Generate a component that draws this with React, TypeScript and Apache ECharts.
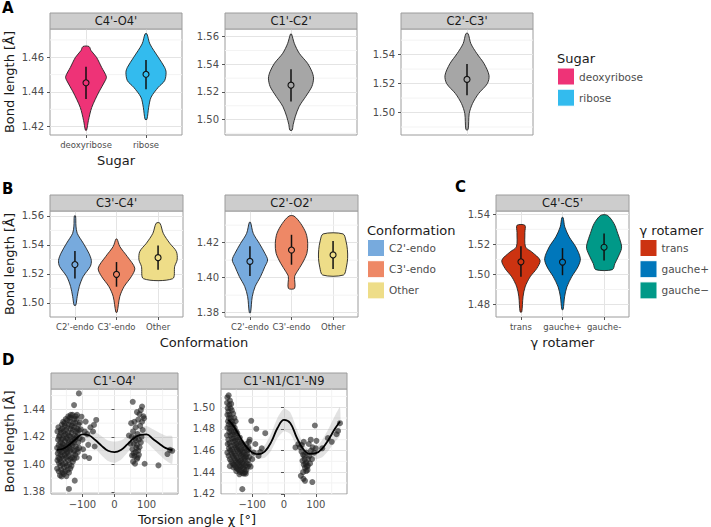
import React, { useEffect, useRef } from "react";
import * as echarts from "echarts";

const FONT = "DejaVu Sans";

// ---------- categories ----------
const sugarCats = ["deoxyribose", "ribose"];
const confCats = ["C2'-endo", "C3'-endo", "Other"];
const gammaCats = ["trans", "gauche+", "gauche-"];
const gammaLegend = ["trans", "gauche+", "gauche\u2212"];

// ---------- tick labels ----------
const ticksA1 = [1.42, 1.44, 1.46];
const ticksA2 = [1.5, 1.52, 1.54, 1.56];
const ticksA3 = [1.5, 1.52, 1.54];
const ticksB1 = [1.5, 1.52, 1.54, 1.56];
const ticksB2 = [1.38, 1.4, 1.42];
const ticksC = [1.48, 1.5, 1.52, 1.54];
const ticksD1 = [1.38, 1.4, 1.42, 1.44];
const ticksD2 = [1.42, 1.44, 1.46, 1.48, 1.5];
const ticksChi = [-100, 0, 100];

// ---------- violin profiles: [bond length, width (fraction of category slot)] ----------
const c4o4Deoxy = [[1.4662, 0.1], [1.4638, 0.17], [1.46, 0.35], [1.4542, 0.52], [1.4488, 0.68], [1.4465, 0.64], [1.44, 0.43], [1.431, 0.19], [1.4235, 0.08], [1.418, 0.02]];
const c4o4Ribose = [[1.4735, 0.03], [1.4677, 0.13], [1.46, 0.41], [1.4542, 0.62], [1.4513, 0.67], [1.4465, 0.62], [1.4427, 0.41], [1.437, 0.17], [1.4312, 0.09], [1.4242, 0.03]];
const c1c2All = [[1.5619, 0.01], [1.5552, 0.06], [1.548, 0.15], [1.5408, 0.3], [1.5348, 0.38], [1.53, 0.41], [1.524, 0.38], [1.5168, 0.27], [1.5096, 0.15], [1.5024, 0.08], [1.4964, 0.04], [1.4923, 0.02]];
const c2c3All = [[1.5545, 0.02], [1.5476, 0.07], [1.5407, 0.18], [1.5338, 0.31], [1.5257, 0.4], [1.52, 0.37], [1.5131, 0.21], [1.5062, 0.1], [1.4993, 0.04], [1.4883, 0.02]];
const c3c4C2 = [[1.56, 0.03], [1.553, 0.05], [1.548, 0.11], [1.5412, 0.4], [1.5343, 0.67], [1.5293, 0.79], [1.5252, 0.74], [1.5183, 0.4], [1.5114, 0.21], [1.5045, 0.11], [1.4984, 0.04]];
const c3c4C3 = [[1.544, 0.03], [1.5389, 0.16], [1.532, 0.52], [1.524, 0.88], [1.5183, 0.72], [1.5114, 0.37], [1.5045, 0.16], [1.4936, 0.03]];
const c3c4Other = [[1.555, 0.09], [1.548, 0.25], [1.5412, 0.56], [1.5355, 0.88], [1.5298, 0.92], [1.5252, 0.8], [1.5167, 0.7]];
const c2o2C2 = [[1.4316, 0.03], [1.4253, 0.16], [1.4196, 0.45], [1.4139, 0.72], [1.4101, 0.85], [1.4063, 0.72], [1.4006, 0.51], [1.3949, 0.25], [1.3891, 0.11], [1.38, 0.03]];
const c2o2C3 = [[1.4352, 0.12], [1.431, 0.44], [1.4253, 0.7], [1.4196, 0.78], [1.4139, 0.74], [1.4082, 0.52], [1.4034, 0.27], [1.4006, 0.15], [1.3939, 0.15]];
const c2o2Other = [[1.425, 0.48], [1.421, 0.62], [1.416, 0.69], [1.411, 0.7], [1.406, 0.64], [1.4015, 0.5]];
const c4c5Trans = [[1.5327, 0.19], [1.528, 0.19], [1.5183, 0.22], [1.515, 0.52], [1.5094, 0.92], [1.5039, 0.76], [1.4984, 0.44], [1.4917, 0.2], [1.4851, 0.1], [1.4751, 0.04]];
const c4c5GPlus = [[1.5378, 0.03], [1.5316, 0.11], [1.525, 0.32], [1.5183, 0.64], [1.5105, 0.86], [1.505, 0.74], [1.4984, 0.44], [1.4917, 0.21], [1.4851, 0.1], [1.4767, 0.03]];
const c4c5GMinus = [[1.5393, 0.16], [1.5338, 0.48], [1.5272, 0.66], [1.5205, 0.82], [1.5172, 0.84], [1.5117, 0.68], [1.5072, 0.52], [1.5032, 0.4]];

// ---------- summary: [mean, mean - sd, mean + sd] ----------
const statA1 = [[1.4453, 1.436, 1.4545], [1.4502, 1.4415, 1.4585]];
const statA2 = [[1.5249, 1.513, 1.5365]];
const statA3 = [[1.5229, 1.512, 1.5335]];
const statB1 = [[1.5265, 1.5168, 1.5358], [1.5197, 1.5112, 1.5282], [1.5312, 1.5228, 1.5396]];
const statB2 = [[1.4093, 1.401, 1.4179], [1.4158, 1.4074, 1.4245], [1.413, 1.405, 1.421]];
const statC = [[1.5084, 1.4985, 1.5187], [1.5082, 1.4995, 1.5175], [1.5181, 1.5092, 1.5272]];

// ---------- panel D: smooth fit [chi, fit, lower, upper] ----------
const fitC1O4 = [
  [-180, 1.4106, 1.4066, 1.4146], [-160, 1.4114, 1.4084, 1.4144], [-140, 1.4145, 1.4115, 1.4175],
  [-120, 1.4185, 1.4155, 1.4215], [-100, 1.4218, 1.4178, 1.4258], [-80, 1.4212, 1.4162, 1.4262],
  [-60, 1.4177, 1.4117, 1.4237], [-40, 1.4135, 1.4065, 1.4205], [-20, 1.4099, 1.4024, 1.4174],
  [0, 1.4089, 1.4011, 1.4167], [20, 1.4104, 1.4034, 1.4174], [40, 1.4145, 1.4085, 1.4205],
  [60, 1.419, 1.414, 1.424], [80, 1.4214, 1.4164, 1.4264], [100, 1.4219, 1.4159, 1.4279],
  [120, 1.4185, 1.4115, 1.4255], [140, 1.415, 1.407, 1.423], [160, 1.4118, 1.4028, 1.4208],
  [180, 1.4104, 1.4004, 1.4204],
];
const fitC1N = [
  [-175, 1.4883, 1.4845, 1.4921], [-160, 1.4832, 1.4805, 1.486], [-140, 1.4735, 1.471, 1.476],
  [-120, 1.464, 1.4615, 1.4665], [-100, 1.4582, 1.4552, 1.4612], [-80, 1.4566, 1.4526, 1.4606],
  [-60, 1.4592, 1.4532, 1.4652], [-40, 1.468, 1.46, 1.476], [-20, 1.481, 1.4715, 1.4905],
  [0, 1.4883, 1.4778, 1.4988], [20, 1.4852, 1.4752, 1.4952], [40, 1.472, 1.464, 1.48],
  [60, 1.4615, 1.4565, 1.4665], [80, 1.457, 1.453, 1.461], [100, 1.4575, 1.452, 1.463],
  [120, 1.4618, 1.4538, 1.4698], [140, 1.47, 1.46, 1.48], [160, 1.48, 1.468, 1.492],
  [176, 1.4868, 1.4738, 1.4998],
];

// ---------- panel D: observations [chi, bond length] ----------
const c1o4Points = [
  [-179, 1.397], [-178, 1.403], [-177, 1.408], [-179, 1.412], [-176, 1.418], [-178, 1.424],
  [-174, 1.395], [-173, 1.401], [-175, 1.405], [-172, 1.41], [-174, 1.414], [-173, 1.42], [-175, 1.427],
  [-170, 1.392], [-169, 1.399], [-171, 1.404], [-168, 1.407], [-170, 1.411], [-169, 1.416], [-171, 1.421], [-168, 1.425],
  [-166, 1.396], [-165, 1.3913], [-167, 1.402], [-164, 1.409], [-166, 1.413], [-165, 1.418], [-167, 1.423], [-164, 1.429],
  [-162, 1.394], [-161, 1.4], [-163, 1.406], [-160, 1.412], [-162, 1.415], [-161, 1.419], [-163, 1.426], [-160, 1.431],
  [-158, 1.393], [-157, 1.398], [-159, 1.404], [-156, 1.41], [-158, 1.414], [-157, 1.421], [-159, 1.424], [-156, 1.43],
  [-154, 1.395], [-153, 1.401], [-155, 1.407], [-152, 1.411], [-154, 1.417], [-153, 1.422], [-155, 1.428], [-152, 1.433],
  [-150, 1.3915], [-149, 1.399], [-151, 1.405], [-148, 1.409], [-150, 1.413], [-149, 1.419], [-151, 1.425], [-148, 1.432],
  [-146, 1.396], [-145, 1.403], [-147, 1.408], [-144, 1.414], [-146, 1.418], [-145, 1.423], [-147, 1.427], [-144, 1.435],
  [-142, 1.394], [-141, 1.4], [-143, 1.406], [-140, 1.412], [-142, 1.416], [-141, 1.421], [-143, 1.429], [-140, 1.434], [-142, 1.3822],
  [-138, 1.397], [-137, 1.404], [-139, 1.41], [-136, 1.415], [-138, 1.42], [-137, 1.426], [-139, 1.431], [-136, 1.436],
  [-134, 1.399], [-133, 1.405], [-135, 1.411], [-132, 1.417], [-134, 1.423], [-133, 1.428], [-135, 1.434],
  [-130, 1.402], [-129, 1.408], [-131, 1.414], [-128, 1.419], [-130, 1.425], [-129, 1.43], [-131, 1.436],
  [-126, 1.404], [-125, 1.41], [-127, 1.416], [-124, 1.421], [-126, 1.427], [-125, 1.433], [-126, 1.4431], [-124, 1.3882],
  [-122, 1.407], [-121, 1.413], [-123, 1.418], [-120, 1.424], [-122, 1.43], [-121, 1.435],
  [-118, 1.405], [-117, 1.411], [-119, 1.42], [-116, 1.426], [-118, 1.433], [-117, 1.436],
  [-114, 1.409], [-113, 1.416], [-115, 1.423], [-112, 1.429],
  [-110, 1.412], [-109, 1.419], [-111, 1.425], [-111, 1.4516],
  [-103, 1.4347], [-90, 1.4311], [-57, 1.4323], [-64, 1.4287], [-67, 1.4239], [-93, 1.4239], [-82, 1.4142],
  [-62, 1.413], [-93, 1.4058], [-79, 1.4046], [-100, 1.418], [-105, 1.4255], [-98, 1.411], [-85, 1.422],
  [-75, 1.427], [-108, 1.4305],
  [57, 1.4455], [82, 1.4395], [86, 1.442], [78, 1.4365], [90, 1.435], [70, 1.438], [74, 1.4325], [62, 1.431],
  [52, 1.43], [66, 1.427], [80, 1.428], [58, 1.424], [72, 1.422], [88, 1.425], [64, 1.419], [76, 1.418],
  [54, 1.42], [60, 1.415], [70, 1.414], [82, 1.416], [56, 1.411], [66, 1.409], [74, 1.41], [62, 1.406],
  [70, 1.404], [58, 1.402], [64, 1.4005], [76, 1.407], [68, 1.412], [60, 1.408], [72, 1.405], [84, 1.42],
  [50, 1.415], [45, 1.421], [94, 1.4005], [66, 1.4175], [78, 1.4125], [55, 1.4065], [86, 1.431], [92, 1.4335],
  [137, 1.3993], [165, 1.4075], [173, 1.4106], [180, 1.4099],
];
const c1nPoints = [
  [-178, 1.458], [-177, 1.466], [-179, 1.474], [-178, 1.481], [-176, 1.487], [-178, 1.493], [-177, 1.499], [-179, 1.504], [-178, 1.509],
  [-174, 1.455], [-173, 1.462], [-175, 1.47], [-172, 1.477], [-174, 1.484], [-173, 1.49], [-175, 1.496], [-172, 1.502], [-174, 1.511],
  [-170, 1.452], [-169, 1.46], [-171, 1.467], [-168, 1.474], [-170, 1.48], [-169, 1.486], [-171, 1.493], [-168, 1.499], [-170, 1.506],
  [-166, 1.45], [-165, 1.457], [-167, 1.464], [-164, 1.471], [-166, 1.478], [-165, 1.484], [-167, 1.49], [-164, 1.497], [-166, 1.503],
  [-162, 1.448], [-161, 1.455], [-163, 1.461], [-160, 1.468], [-162, 1.475], [-161, 1.481], [-163, 1.487], [-160, 1.494],
  [-158, 1.447], [-157, 1.453], [-159, 1.459], [-156, 1.465], [-158, 1.471], [-157, 1.477], [-159, 1.484], [-156, 1.49],
  [-154, 1.446], [-153, 1.451], [-155, 1.457], [-152, 1.463], [-154, 1.469], [-153, 1.475], [-155, 1.481], [-152, 1.487],
  [-150, 1.444], [-149, 1.449], [-151, 1.455], [-148, 1.461], [-150, 1.466], [-149, 1.472], [-151, 1.478],
  [-146, 1.443], [-145, 1.448], [-147, 1.453], [-144, 1.459], [-146, 1.464], [-145, 1.47], [-147, 1.476],
  [-142, 1.442], [-141, 1.446], [-143, 1.451], [-140, 1.457], [-142, 1.462], [-141, 1.468],
  [-138, 1.44], [-137, 1.445], [-139, 1.45], [-136, 1.455], [-138, 1.46], [-137, 1.466], [-139, 1.472],
  [-134, 1.441], [-133, 1.446], [-135, 1.451], [-132, 1.456], [-134, 1.461], [-133, 1.467],
  [-130, 1.439], [-129, 1.444], [-131, 1.449], [-128, 1.454], [-130, 1.459], [-129, 1.465],
  [-126, 1.4385], [-125, 1.443], [-127, 1.448], [-124, 1.453], [-126, 1.458], [-125, 1.463],
  [-122, 1.44], [-121, 1.446], [-123, 1.451], [-120, 1.456], [-122, 1.462],
  [-118, 1.442], [-117, 1.448], [-119, 1.454], [-116, 1.46], [-118, 1.466],
  [-114, 1.445], [-113, 1.451], [-115, 1.457], [-112, 1.463],
  [-110, 1.447], [-109, 1.454], [-111, 1.461], [-110, 1.468],
  [-131, 1.4243], [-159, 1.4443], [-103, 1.4874], [-87, 1.48], [-70, 1.462], [-59, 1.476], [-100, 1.452],
  [-95, 1.458], [-105, 1.445], [-90, 1.466], [-80, 1.455], [-75, 1.4585], [-108, 1.47], [-170, 1.4455],
  [-150, 1.441], [-140, 1.438], [-120, 1.4385],
  [36, 1.4628], [45, 1.466], [50, 1.463], [55, 1.459], [60, 1.456], [65, 1.452], [70, 1.449], [58, 1.4505],
  [62, 1.447], [66, 1.444], [72, 1.445], [68, 1.4475], [74, 1.442], [64, 1.455], [70, 1.458], [76, 1.452],
  [80, 1.455], [85, 1.46], [90, 1.463], [95, 1.458], [100, 1.462], [88, 1.452], [82, 1.448], [56, 1.465],
  [62, 1.468], [78, 1.466], [84, 1.47], [53, 1.4366], [61, 1.4338], [66, 1.432], [89, 1.4308], [97, 1.4831],
  [102, 1.4689], [60, 1.44], [70, 1.441], [75, 1.446],
  [138, 1.4714], [176, 1.4852], [150, 1.468], [120, 1.462], [165, 1.475], [170, 1.478],
];

// ---------- colours ----------
const sugarColors = ["#EE3377", "#33BBEE"];
const confColors = ["#77AADD", "#EE8866", "#EEDD88"];
const gammaColors = ["#CC3311", "#0077BB", "#009988"];
const grayViolin = "#A6A6A6";

type Violin = { prof: number[][]; stat: number[]; color: string };
type Panel = {
  strip: string;
  box: number[];
  y: number[];
  yMajor: number[];
  yMinor: number[];
  cats?: string[];
  showCats?: boolean;
  violins?: Violin[];
  x?: number[];
  xMajor?: number[];
  xMinor?: number[];
  points?: number[][];
  fit?: number[][];
};

const panels: Panel[] = [
  { strip: "C4'-O4'", box: [50, 29, 132, 106], y: [1.4152, 1.4763], yMajor: ticksA1, yMinor: [1.43, 1.45, 1.47], cats: sugarCats, showCats: true,
    violins: [{ prof: c4o4Deoxy, stat: statA1[0], color: sugarColors[0] }, { prof: c4o4Ribose, stat: statA1[1], color: sugarColors[1] }] },
  { strip: "C1'-C2'", box: [225, 29, 132, 106], y: [1.4888, 1.5656], yMajor: ticksA2, yMinor: [1.49, 1.51, 1.53, 1.55], cats: ["all"], showCats: false,
    violins: [{ prof: c1c2All, stat: statA2[0], color: grayViolin }] },
  { strip: "C2'-C3'", box: [401, 29, 132, 106], y: [1.4845, 1.5577], yMajor: ticksA3, yMinor: [1.49, 1.51, 1.53, 1.55], cats: ["all"], showCats: false,
    violins: [{ prof: c2c3All, stat: statA3[0], color: grayViolin }] },
  { strip: "C3'-C4'", box: [50, 211, 133, 106], y: [1.4903, 1.5634], yMajor: ticksB1, yMinor: [1.51, 1.53, 1.55], cats: confCats, showCats: true,
    violins: [0, 1, 2].map((k) => ({ prof: [c3c4C2, c3c4C3, c3c4Other][k], stat: statB1[k], color: confColors[k] })) },
  { strip: "C2'-O2'", box: [225, 211, 133, 106], y: [1.3775, 1.4381], yMajor: ticksB2, yMinor: [1.39, 1.41, 1.43], cats: confCats, showCats: true,
    violins: [0, 1, 2].map((k) => ({ prof: [c2o2C2, c2o2C3, c2o2Other][k], stat: statB2[k], color: confColors[k] })) },
  { strip: "C4'-C5'", box: [496, 211, 133, 106], y: [1.4717, 1.5422], yMajor: ticksC, yMinor: [1.49, 1.51, 1.53], cats: gammaCats, showCats: true,
    violins: [0, 1, 2].map((k) => ({ prof: [c4c5Trans, c4c5GPlus, c4c5GMinus][k], stat: statC[k], color: gammaColors[k] })) },
  { strip: "C1'-O4'", box: [51, 389, 127, 105], y: [1.3785, 1.4548], yMajor: ticksD1, yMinor: [1.39, 1.41, 1.43, 1.45],
    x: [-198, 198], xMajor: ticksChi, xMinor: [-150, -50, 50, 150], points: c1o4Points, fit: fitC1O4 },
  { strip: "C1'-N1/C1'-N9", box: [221, 389, 126, 105], y: [1.4198, 1.5168], yMajor: ticksD2, yMinor: [1.43, 1.45, 1.47, 1.49, 1.51],
    x: [-198, 198], xMajor: ticksChi, xMinor: [-150, -50, 50, 150], points: c1nPoints, fit: fitC1N },
];

const TICK = "#4d4d4d";
const TITLE = "#1a1a1a";
const BORDER = "#9c9c9c";
const MAJOR = "#e4e4e4";
const MINOR = "#f3f3f3";

function buildOption() {
  const grid: any[] = [];
  const xAxis: any[] = [];
  const yAxis: any[] = [];
  const series: any[] = [];
  const elements: any[] = [];

  panels.forEach((p, i) => {
    const [l, t, w, h] = p.box;
    grid.push({ left: l, top: t, width: w, height: h, show: true, borderColor: BORDER, borderWidth: 1, backgroundColor: "#fff" });
    const isCat = !!p.cats;
    const xMin = isCat ? 0.4 : p.x![0];
    const xMax = isCat ? p.cats!.length + 0.6 : p.x![1];
    const xVals = isCat ? p.cats!.map((_, k) => k + 1) : p.xMajor!;
    xAxis.push({
      type: "value", gridIndex: i, min: xMin, max: xMax,
      axisLine: { show: false },
      axisTick: { show: isCat ? !!p.showCats : true, customValues: xVals, length: 3, lineStyle: { color: "#555" } },
      axisLabel: {
        show: isCat ? !!p.showCats : true, customValues: xVals, margin: 5,
        fontSize: isCat ? 8.5 : 10, color: TICK, fontFamily: FONT,
        formatter: (v: number) => isCat ? p.cats![Math.round(v) - 1] : (v < 0 ? "\u2212" + Math.abs(v) : String(v)),
      },
      splitLine: { show: true, lineStyle: { color: MAJOR, width: 1 } },
    });
    yAxis.push({
      type: "value", gridIndex: i, min: p.y[0], max: p.y[1],
      axisLine: { show: false },
      axisTick: { show: true, customValues: p.yMajor, length: 3, lineStyle: { color: "#555" } },
      axisLabel: { customValues: p.yMajor, margin: 6, fontSize: 10, color: TICK, fontFamily: FONT, formatter: (v: number) => v.toFixed(2) },
      splitLine: { show: true, lineStyle: { color: MAJOR, width: 1 } },
    });

    // minor grid lines
    const minors = [...p.yMinor.map((v) => ({ o: "h", v })), ...(p.xMinor || []).map((v) => ({ o: "v", v }))];
    series.push({
      type: "custom", xAxisIndex: i, yAxisIndex: i, silent: true, z: 1, clip: true,
      data: minors.map((m) => (m.o === "h" ? [xMin, m.v] : [m.v, p.y[0]])),
      renderItem: (params: any, api: any) => {
        const m = minors[params.dataIndex];
        const a = m.o === "h" ? api.coord([xMin, m.v]) : api.coord([m.v, p.y[0]]);
        const b = m.o === "h" ? api.coord([xMax, m.v]) : api.coord([m.v, p.y[1]]);
        return { type: "line", shape: { x1: a[0], y1: a[1], x2: b[0], y2: b[1] }, style: { stroke: MINOR, lineWidth: 1 } };
      },
    });

    if (p.violins) {
      const vs = p.violins;
      series.push({
        type: "custom", xAxisIndex: i, yAxisIndex: i, silent: true, z: 3, clip: true,
        data: vs.map((v, k) => [k + 1, v.stat[0]]),
        renderItem: (params: any, api: any) => {
          const k = params.dataIndex;
          const v = vs[k];
          const c = k + 1;
          const right = v.prof.map(([y, wd]) => api.coord([c + wd / 2, y]));
          const left = v.prof.slice().reverse().map(([y, wd]) => api.coord([c - wd / 2, y]));
          const m = api.coord([c, v.stat[0]]);
          const lo = api.coord([c, v.stat[1]]);
          const hi = api.coord([c, v.stat[2]]);
          return {
            type: "group",
            children: [
              { type: "polygon", shape: { points: right.concat(left), smooth: 0.3 }, style: { fill: v.color, stroke: "#222", lineWidth: 0.9 } },
              { type: "line", shape: { x1: lo[0], y1: lo[1], x2: hi[0], y2: hi[1] }, style: { stroke: "#111", lineWidth: 1.5 } },
              { type: "circle", shape: { cx: m[0], cy: m[1], r: 3 }, style: { fill: v.color, stroke: "#111", lineWidth: 1.1 } },
            ],
          };
        },
      });
    }

    if (p.points && p.fit) {
      const fit = p.fit;
      series.push({
        type: "custom", xAxisIndex: i, yAxisIndex: i, silent: true, z: 2, clip: true,
        data: [[fit[0][0], fit[0][1]]],
        renderItem: (_params: any, api: any) => {
          const up = fit.map((r) => api.coord([r[0], r[3]]));
          const dn = fit.slice().reverse().map((r) => api.coord([r[0], r[2]]));
          return { type: "polygon", shape: { points: up.concat(dn), smooth: 0.2 }, style: { fill: "rgba(150,150,150,0.28)" } };
        },
      });
      series.push({
        type: "scatter", xAxisIndex: i, yAxisIndex: i, silent: true, z: 3,
        data: p.points, symbolSize: 6,
        itemStyle: { color: "#1e1e1e", opacity: 0.62 },
      });
      series.push({
        type: "line", xAxisIndex: i, yAxisIndex: i, silent: true, z: 4,
        data: fit.map((r) => [r[0], r[1]]), smooth: 0.4, showSymbol: false,
        lineStyle: { color: "#000", width: 1.8 },
      });
    }

    // strip
    elements.push({ type: "rect", shape: { x: l, y: t - 16, width: w, height: 16 }, style: { fill: "#cdcdcd", stroke: BORDER, lineWidth: 1 }, z: 10 });
    elements.push({ type: "text", x: l + w / 2, y: t - 8, style: { text: p.strip, fontSize: 11.5, fontFamily: FONT, fill: TITLE, align: "center", verticalAlign: "middle" }, z: 11 });
  });

  // panel letters
  const letters = [["A", 2, 7.5], ["B", 2, 188.5], ["C", 455, 187], ["D", 2, 359.5]];
  letters.forEach(([s, x, y]) => {
    elements.push({ type: "text", x, y, style: { text: s, fontSize: 15, fontWeight: "bold", fontFamily: FONT, fill: "#000", align: "left", verticalAlign: "middle" } });
  });

  // axis titles
  const yTitles = [82, 264, 441.5];
  yTitles.forEach((y) => {
    elements.push({ type: "text", x: 9, y, rotation: Math.PI / 2, style: { text: "Bond length [\u00c5]", fontSize: 13, fontFamily: FONT, fill: TITLE, align: "center", verticalAlign: "middle" } });
  });
  const xTitles = [["Sugar", 116, 160], ["Conformation", 204, 342.5], ["\u03b3 rotamer", 562.5, 342], ["Torsion angle \u03c7 [\u00b0]", 197, 519]];
  xTitles.forEach(([s, x, y]) => {
    elements.push({ type: "text", x, y, style: { text: s, fontSize: 13, fontFamily: FONT, fill: TITLE, align: "center", verticalAlign: "middle" } });
  });

  // legends
  const legends = [
    { title: "Sugar", x: 557, ty: 58.5, ky: 68, labels: sugarCats, colors: sugarColors },
    { title: "Conformation", x: 367, ty: 230, ky: 239.5, labels: confCats, colors: confColors },
    { title: "\u03b3 rotamer", x: 639.5, ty: 230, ky: 239.5, labels: gammaLegend, colors: gammaColors },
  ];
  legends.forEach((lg) => {
    elements.push({ type: "text", x: lg.x, y: lg.ty, style: { text: lg.title, fontSize: 13, fontFamily: FONT, fill: TITLE, align: "left", verticalAlign: "middle" } });
    lg.labels.forEach((lab, k) => {
      const y0 = lg.ky + k * 21.2;
      elements.push({ type: "rect", shape: { x: lg.x + 0.5, y: y0, width: 17, height: 17 }, style: { fill: lg.colors[k], stroke: "#fff", lineWidth: 1 } });
      elements.push({ type: "text", x: lg.x + 22, y: y0 + 8.5, style: { text: lab, fontSize: 10.5, fontFamily: FONT, fill: TICK, align: "left", verticalAlign: "middle" } });
    });
  });

  return {
    animation: false,
    backgroundColor: "#ffffff",
    textStyle: { fontFamily: FONT },
    grid, xAxis, yAxis, series,
    graphic: { elements },
  };
}

export default function App() {
  const ref = useRef<HTMLDivElement>(null);
  useEffect(() => {
    if (!ref.current) return;
    const chart = echarts.init(ref.current, undefined, { renderer: "svg" });
    chart.setOption(buildOption() as any);
    return () => chart.dispose();
  }, []);
  return <div ref={ref} style={{ position: "fixed", left: 0, top: 0, width: 711, height: 527, background: "#fff" }} />;
}
